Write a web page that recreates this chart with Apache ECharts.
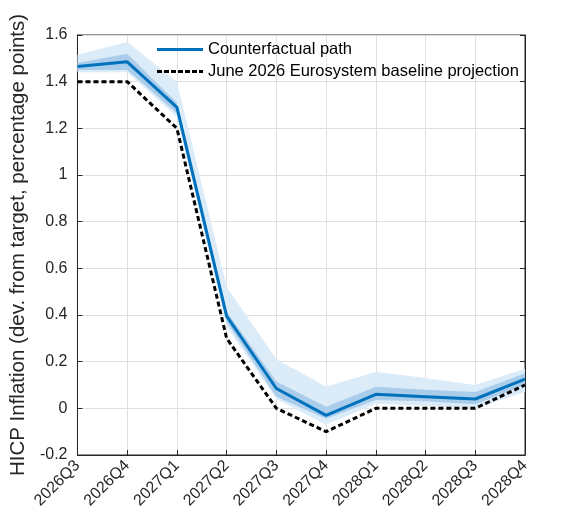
<!DOCTYPE html>
<html>
<head>
<meta charset="utf-8">
<script src="https://cdn.jsdelivr.net/npm/echarts@6/dist/echarts.min.js"></script>
<style>
  html, body { margin: 0; padding: 0; background: #fff; }
  #main { width: 573px; height: 519px; }
</style>
</head>
<body>
<div id="main"></div>
<script>
// chart values
const quarters = ['2026Q3', '2026Q4', '2027Q1', '2027Q2', '2027Q3', '2027Q4', '2028Q1', '2028Q2', '2028Q3', '2028Q4'];
const counterfactual = [1.465, 1.485, 1.29, 0.395, 0.085, -0.03, 0.06, 0.05, 0.04, 0.125];
const baseline = [1.4, 1.4, 1.2, 0.3, 0, -0.1, 0, 0, 0, 0.1];
const innerLow = [1.45, 1.45, 1.265, 0.37, 0.05, -0.045, 0.036, 0.03, 0.018, 0.1];
const innerHigh = [1.48, 1.52, 1.31, 0.415, 0.115, 0.007, 0.093, 0.08, 0.07, 0.15];
const outerLow = [1.44, 1.44, 1.25, 0.35, 0.04, -0.07, 0.02, 0.01, 0, 0.07];
const outerHigh = [1.515, 1.57, 1.4, 0.52, 0.21, 0.093, 0.157, 0.13, 0.1, 0.17];

const myChart = echarts.init(document.getElementById('main'));
const font = 'Liberation Sans, Arial, sans-serif';

// band = invisible lower line + stacked difference filled
function band(name, low, high, color) {
  return [{
    type: 'line', stack: name, stackStrategy: 'all', data: low, symbol: 'none', silent: true,
    lineStyle: { opacity: 0 }, z: 1
  }, {
    type: 'line', stack: name, stackStrategy: 'all', data: high.map((h, i) => +(h - low[i]).toFixed(4)),
    symbol: 'none', silent: true, lineStyle: { opacity: 0 },
    areaStyle: { color: color, opacity: 1 }, z: 1
  }];
}

const options = {
  animation: false,
  textStyle: { fontFamily: font },
  grid: { left: 72, right: 48, top: 35, bottom: 64, show: true, borderColor: '#262626', borderWidth: 1 },
  legend: {
    left: 152, top: 36, orient: 'vertical', itemGap: 5, itemWidth: 46, itemHeight: 16,
    textStyle: { fontFamily: font, fontSize: 16.5, color: '#000' },
    data: [
      { name: 'Counterfactual path', icon: 'path://M0,6h46v3h-46z' },
      { name: 'June 2026 Eurosystem baseline projection', icon: 'path://M0,6h5v3h-5zM7,6h5v3h-5zM14,6h5v3h-5zM21,6h5v3h-5zM28,6h5v3h-5zM35,6h5v3h-5zM42,6h4v3h-4z' }
    ]
  },
  xAxis: {
    type: 'category', data: quarters, boundaryGap: false,
    axisLine: { onZero: false, lineStyle: { color: '#262626' } },
    axisTick: { inside: true, length: 5, lineStyle: { color: '#262626' } },
    axisLabel: { rotate: 45, fontSize: 16, color: '#262626', margin: 8, fontFamily: font },
    splitLine: { show: true, lineStyle: { color: '#dfdfdf' } }
  },
  yAxis: [{
    type: 'value', min: -0.2, max: 1.6, interval: 0.2,
    name: 'HICP Inflation (dev. from target, percentage points)',
    nameLocation: 'middle', nameGap: 45,
    nameTextStyle: { fontSize: 20.5, color: '#262626', fontFamily: font },
    axisLine: { show: true, lineStyle: { color: '#262626' } },
    axisTick: { show: true, inside: true, length: 5, lineStyle: { color: '#262626' } },
    axisLabel: {
      fontSize: 16, color: '#262626', margin: 10, fontFamily: font,
      formatter: v => String(Math.round(v * 10) / 10)
    },
    splitLine: { show: true, lineStyle: { color: '#dfdfdf' } }
  }, {
    type: 'value', min: -0.2, max: 1.6, interval: 0.2, position: 'right',
    axisLine: { show: true, lineStyle: { color: '#262626' } },
    axisTick: { show: true, inside: true, length: 5, lineStyle: { color: '#262626' } },
    axisLabel: { show: false }, splitLine: { show: false }
  }],
  series: [
    ...band('outer', outerLow, outerHigh, '#dcebf8'),
    ...band('inner', innerLow, innerHigh, '#a9cdea'),
    {
      name: 'Counterfactual path', type: 'line', data: counterfactual, symbol: 'none',
      lineStyle: { color: '#0072bd', width: 3 }, itemStyle: { color: '#0072bd' }, z: 3
    },
    {
      name: 'June 2026 Eurosystem baseline projection', type: 'line', data: baseline, symbol: 'none',
      lineStyle: { color: '#000', width: 3, type: [5, 3] }, itemStyle: { color: '#000' }, z: 4
    }
  ]
};

myChart.setOption(options);
</script>
</body>
</html>
